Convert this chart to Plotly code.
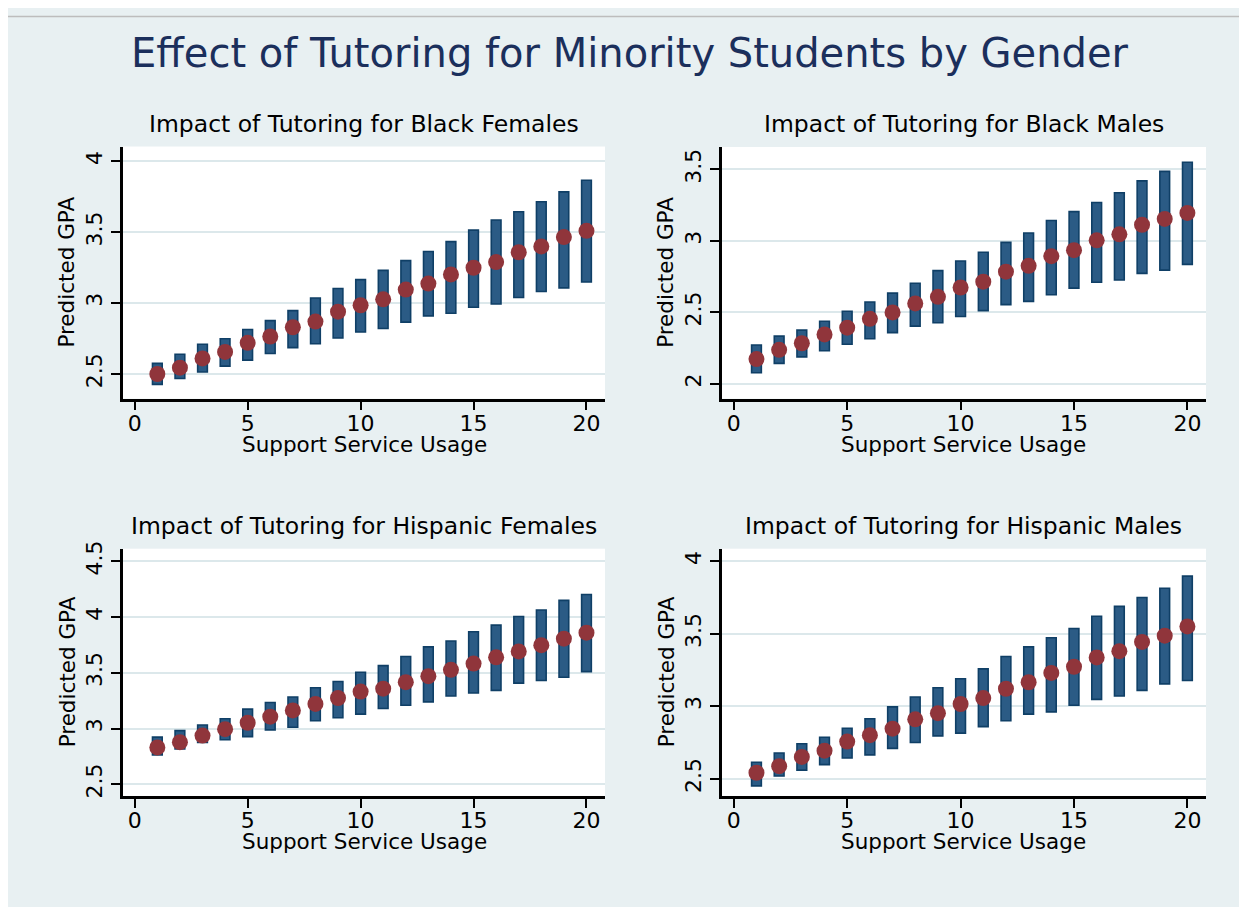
import plotly.graph_objects as go

# The page places the figure 8 px in from the top-left corner (body margin),
# so the figure is 8 px smaller than the window and all positions below are
# given in window pixels and converted.
PAGE_OFF = 8
W, H = 1247 - PAGE_OFF, 907 - PAGE_OFF

# ---------------- data ----------------
usage = list(range(1, 21))

bf_mean = [2.50, 2.545, 2.61, 2.656, 2.72, 2.765, 2.83, 2.87, 2.94, 2.985,
           3.027, 3.096, 3.138, 3.203, 3.25, 3.29, 3.359, 3.40, 3.466, 3.51]
bf_lo = [2.427, 2.468, 2.514, 2.556, 2.598, 2.645, 2.686, 2.714, 2.754, 2.796,
         2.821, 2.866, 2.91, 2.929, 2.971, 2.994, 3.04, 3.082, 3.108, 3.149]
bf_hi = [2.575, 2.64, 2.71, 2.749, 2.814, 2.877, 2.947, 3.036, 3.103, 3.166,
         3.231, 3.30, 3.364, 3.434, 3.515, 3.587, 3.645, 3.715, 3.785, 3.867]

bm_mean = [2.173, 2.238, 2.284, 2.346, 2.393, 2.455, 2.50, 2.563, 2.609, 2.674,
           2.715, 2.785, 2.826, 2.893, 2.935, 3.004, 3.046, 3.113, 3.154, 3.196]
bm_lo = [2.078, 2.143, 2.189, 2.231, 2.277, 2.316, 2.358, 2.404, 2.427, 2.471,
         2.512, 2.554, 2.577, 2.623, 2.67, 2.711, 2.727, 2.773, 2.796, 2.836]
bm_hi = [2.272, 2.334, 2.376, 2.438, 2.508, 2.573, 2.635, 2.704, 2.792, 2.859,
         2.921, 2.99, 3.055, 3.143, 3.205, 3.269, 3.337, 3.42, 3.487, 3.551]

hf_mean = [2.831, 2.878, 2.937, 2.994, 3.052, 3.106, 3.162, 3.221, 3.274, 3.331,
           3.357, 3.416, 3.469, 3.526, 3.582, 3.638, 3.691, 3.747, 3.806, 3.859]
hf_lo = [2.763, 2.816, 2.875, 2.899, 2.928, 2.988, 3.011, 3.07, 3.097, 3.129,
         3.18, 3.209, 3.239, 3.292, 3.318, 3.342, 3.407, 3.431, 3.46, 3.51]
hf_hi = [2.923, 2.981, 3.032, 3.088, 3.174, 3.233, 3.283, 3.366, 3.422, 3.505,
         3.564, 3.646, 3.732, 3.785, 3.868, 3.927, 4.004, 4.063, 4.149, 4.202]

hm_mean = [2.541, 2.586, 2.65, 2.693, 2.756, 2.80, 2.845, 2.909, 2.952, 3.015,
           3.056, 3.12, 3.165, 3.229, 3.272, 3.336, 3.379, 3.443, 3.486, 3.55]
hm_lo = [2.45, 2.518, 2.559, 2.597, 2.643, 2.664, 2.709, 2.75, 2.795, 2.814,
         2.859, 2.90, 2.945, 2.961, 3.006, 3.047, 3.07, 3.109, 3.154, 3.177]
hm_hi = [2.613, 2.677, 2.741, 2.786, 2.848, 2.913, 2.995, 3.063, 3.127, 3.189,
         3.257, 3.343, 3.409, 3.472, 3.536, 3.62, 3.688, 3.75, 3.813, 3.897]

main_title = "Effect of Tutoring for Minority Students by Gender"
panel_titles = ["Impact of Tutoring for Black Females",
                "Impact of Tutoring for Black Males",
                "Impact of Tutoring for Hispanic Females",
                "Impact of Tutoring for Hispanic Males"]
x_title = "Support Service Usage"
y_title = "Predicted GPA"
x_ticks = [0, 5, 10, 15, 20]
y_ticks = [[2.5, 3, 3.5, 4], [2, 2.5, 3, 3.5], [2.5, 3, 3.5, 4, 4.5], [2.5, 3, 3.5, 4]]
y_ranges = [[2.326, 4.105], [1.896, 3.657], [2.396, 4.612], [2.381, 4.086]]
x_range = [-0.52, 20.82]

series = [(bf_mean, bf_lo, bf_hi), (bm_mean, bm_lo, bm_hi),
          (hf_mean, hf_lo, hf_hi), (hm_mean, hm_lo, hm_hi)]

# ---------------- layout geometry (window pixels) ----------------
boxes = [  # x0, x1, ytop, ybottom
    (123, 605, 140, 395),
    (722, 1206, 140.5, 395),
    (123, 605, 546.7, 796.7),
    (722, 1206, 546.7, 796.7),
]

def px(x):
    return (x - PAGE_OFF) / W

def py(y):
    return 1 - (y - PAGE_OFF) / H

FONT = "DejaVu Sans"
BG = "#e8f0f2"
GRID = "#dce8eb"
NAVY_FILL = "#2b5b85"
NAVY_LINE = "#0f3f66"
MAROON = "#90353b"

fig = go.Figure()
layout = dict(
    width=W, height=H,
    margin=dict(l=0, r=0, t=0, b=0),
    paper_bgcolor=BG,
    plot_bgcolor="white",
    showlegend=False,
    barmode="overlay",
    font=dict(family=FONT, color="black"),
)

annotations = []
for i, ((m, lo, hi), (x0, x1, yt, yb)) in enumerate(zip(series, boxes)):
    n = "" if i == 0 else str(i + 1)
    xa, ya = "x" + n, "y" + n
    fig.add_trace(go.Bar(
        x=usage, y=[h - l for h, l in zip(hi, lo)], base=lo, width=0.43,
        marker=dict(color=NAVY_FILL, line=dict(color=NAVY_LINE, width=1.6)),
        xaxis=xa, yaxis=ya, hoverinfo="skip"))
    fig.add_trace(go.Scatter(
        x=usage, y=m, mode="markers",
        marker=dict(color=MAROON, size=16, line=dict(width=0)),
        xaxis=xa, yaxis=ya))
    layout["xaxis" + n] = dict(
        domain=[px(x0), px(x1)], range=x_range, anchor=ya,
        tickmode="array", tickvals=x_ticks, ticktext=[str(t) for t in x_ticks],
        showline=True, linecolor="black", linewidth=2.5,
        ticks="outside", ticklen=9, tickwidth=2, tickcolor="black",
        ticklabelstandoff=-6,
        showgrid=False, zeroline=False,
        tickfont=dict(family=FONT, size=22, color="black"))
    layout["yaxis" + n] = dict(
        domain=[py(yb), py(yt)], range=y_ranges[i], anchor=xa,
        tickmode="array", tickvals=y_ticks[i],
        ticktext=[("%g" % t) for t in y_ticks[i]],
        tickangle=-90,
        showline=True, linecolor="black", linewidth=2.5,
        ticks="outside", ticklen=9, tickwidth=2, tickcolor="black",
        showgrid=True, gridcolor=GRID, gridwidth=2, zeroline=False,
        tickfont=dict(family=FONT, size=22, color="black"))
    cx = (x0 + x1) / 2
    cy = (yt + yb) / 2
    annotations.append(dict(
        text=panel_titles[i], x=px(cx), y=py(yt - 23), xref="paper", yref="paper",
        xanchor="center", yanchor="middle", showarrow=False,
        font=dict(family=FONT, size=23.5, color="black")))
    annotations.append(dict(
        text=x_title, x=px(cx), y=py(yb + 46), xref="paper", yref="paper",
        xanchor="center", yanchor="middle", showarrow=False,
        font=dict(family=FONT, size=21.5, color="black")))
    annotations.append(dict(
        text=y_title, x=px(x0 - 56), y=py(cy), xref="paper", yref="paper",
        xanchor="center", yanchor="middle", showarrow=False, textangle=-90,
        font=dict(family=FONT, size=21.5, color="black")))

annotations.append(dict(
    text=main_title, x=px(630), y=py(45), xref="paper", yref="paper",
    xanchor="center", yanchor="middle", showarrow=False,
    font=dict(family=FONT, size=40, color="#1b2f5c")))
layout["annotations"] = annotations

layout["shapes"] = [
    dict(type="line", xref="paper", yref="paper", x0=0, x1=1.0, y0=1 - 0.6 / H, y1=1 - 0.6 / H,
         line=dict(color="#bdbdbd", width=1.5), layer="below"),
]

fig.update_layout(**layout)
fig.write_html("out.html", config={"displayModeBar": False})
